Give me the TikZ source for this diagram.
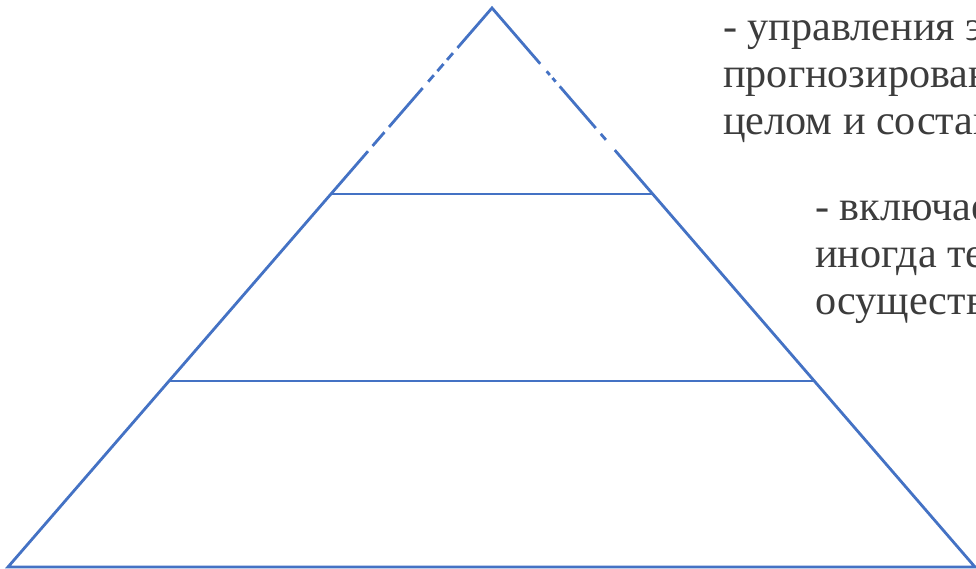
\documentclass[tikz,border=0pt]{standalone}
\usepackage{fontspec}
\setmainfont{Liberation Serif}
\usetikzlibrary{calc}
\definecolor{pyrblue}{HTML}{4472C4}
\definecolor{txtgray}{HTML}{3C3C3C}
\tikzset{
  edge/.style={pyrblue,line width=2pt,line join=miter},
  gap/.style={white,line width=3.5pt},
  levtext/.style={anchor=base west,align=left,inner sep=0pt,text=txtgray,
    font=\fontsize{30pt}{33.6pt}\selectfont}
}
\begin{document}
\begin{tikzpicture}[x=0.025cm,y=-0.025cm]
\useasboundingbox (0,0) rectangle (976,569);
\clip (0,0) rectangle (976,569);
\coordinate (top) at (492,8);
\coordinate (bl) at (8,567);
\coordinate (br) at (975,567);
\draw[edge] (top) -- (bl) -- (br) -- cycle;
\coordinate (l1) at ($(top)!0.3327!(bl)$);
\coordinate (r1) at ($(top)!0.3327!(br)$);
\coordinate (l2) at ($(top)!0.6673!(bl)$);
\coordinate (r2) at ($(top)!0.6673!(br)$);
\draw[edge] (l1) -- (r1);
\draw[edge] (l2) -- (r2);
\foreach \a/\b in {0.0716/0.0805,0.093/0.100,0.113/0.120,0.132/0.143,0.213/0.222,0.247/0.256}
  \draw[gap] ($(top)!\a!(bl)$) -- ($(top)!\b!(bl)$);
\foreach \a/\b in {0.100/0.113,0.120/0.125,0.132/0.140,0.215/0.225,0.236/0.254}
  \draw[gap] ($(top)!\a!(br)$) -- ($(top)!\b!(br)$);
\node[levtext] (upper) at (723,135) {- управления э\\прогнозирован\\целом и состав};
\node[levtext] (middle) at (815,315) {- включает\\иногда тех\\осуществл};
\end{tikzpicture}
\end{document}
